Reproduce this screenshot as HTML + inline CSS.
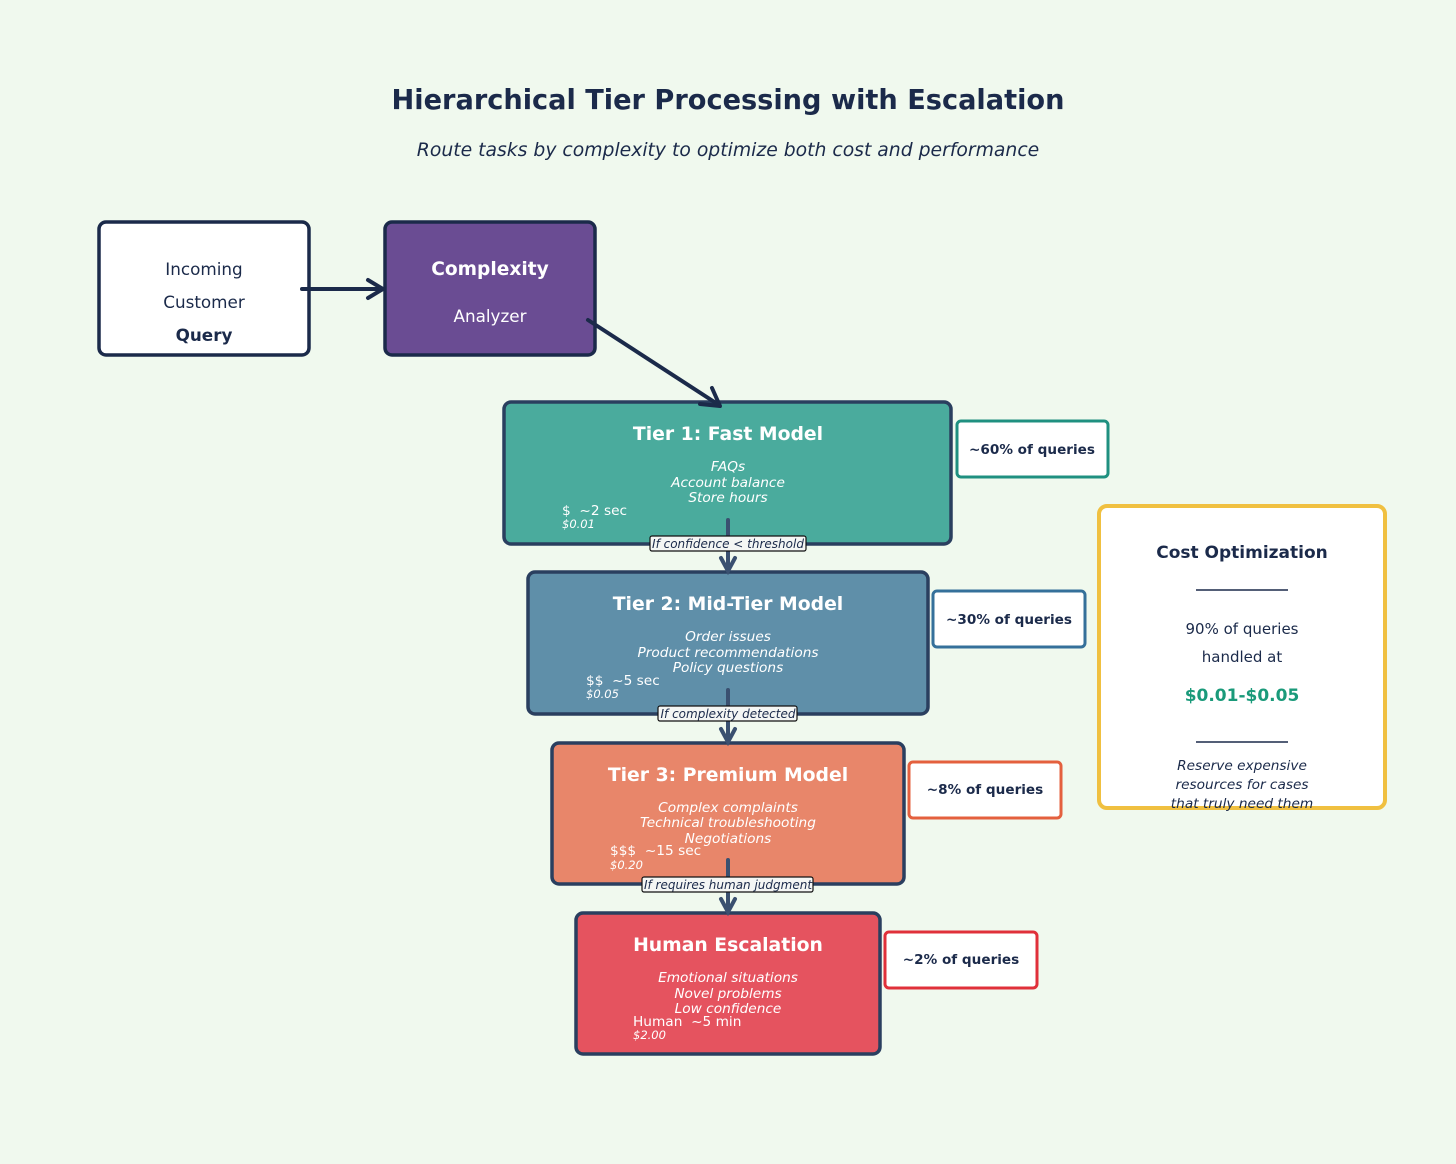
<!DOCTYPE html>
<html><head><meta charset="utf-8"><style>
html,body{margin:0;padding:0;background:#f0f9ee;}
svg{display:block;font-family:"DejaVu Sans","Liberation Sans",sans-serif;}
</style></head><body>
<svg width="1456" height="1164" viewBox="0 0 1456 1164" xmlns="http://www.w3.org/2000/svg">
<rect width="1456" height="1164" fill="#f0f9ee"/>
<text x="728" y="109" text-anchor="middle" font-size="27.2" font-weight="bold" fill="#1b2a4a">Hierarchical Tier Processing with Escalation</text>
<text x="728" y="156" text-anchor="middle" font-size="18.8" font-style="italic" fill="#1b2a4a">Route tasks by complexity to optimize both cost and performance</text>

<rect x="99" y="222" width="210" height="133" rx="7" fill="#fff" stroke="#1b2a4a" stroke-width="3.5"/>
<g font-size="16.8" fill="#1b2a4a" text-anchor="middle">
<text x="204" y="275">Incoming</text><text x="204" y="308">Customer</text><text x="204" y="341" font-weight="bold">Query</text></g>
<rect x="385" y="222" width="210" height="133" rx="7" fill="#6a4c93" stroke="#1b2a4a" stroke-width="3.5"/>
<text x="490" y="275" text-anchor="middle" font-size="18.6" font-weight="bold" fill="#fff">Complexity</text>
<text x="490" y="322" text-anchor="middle" font-size="16.8" fill="#fff">Analyzer</text>

<g stroke="#2a3f5f" stroke-width="3.5">
<rect x="504" y="402" width="447" height="142" rx="7" fill="#4aab9d"/>
<rect x="528" y="572" width="400" height="142" rx="7" fill="#5f8fa9"/>
<rect x="552" y="743" width="352" height="141" rx="7" fill="#e8866a"/>
<rect x="576" y="913" width="304" height="141" rx="7" fill="#e5535f"/>
</g>

<g stroke="#1b2a4a" stroke-width="4" fill="none" stroke-linecap="round" stroke-linejoin="round">
<line x1="302" y1="289" x2="382" y2="289"/><polyline points="368,280 383,289 368,298"/>
<line x1="588" y1="320" x2="719" y2="405"/><polyline points="700,404 720,406 712,388"/>
</g>

<g fill="#fff" text-anchor="middle">
<text x="728" y="440" font-size="18.8" font-weight="bold">Tier 1: Fast Model</text>
<g font-size="13.7" font-style="italic"><text x="728" y="471">FAQs</text><text x="728" y="487">Account balance</text><text x="728" y="502">Store hours</text></g>
<text x="728" y="610" font-size="18.8" font-weight="bold">Tier 2: Mid-Tier Model</text>
<g font-size="13.7" font-style="italic"><text x="728" y="641">Order issues</text><text x="728" y="657">Product recommendations</text><text x="728" y="672">Policy questions</text></g>
<text x="728" y="781" font-size="18.8" font-weight="bold">Tier 3: Premium Model</text>
<g font-size="13.7" font-style="italic"><text x="728" y="812">Complex complaints</text><text x="728" y="827">Technical troubleshooting</text><text x="728" y="843">Negotiations</text></g>
<text x="728" y="951" font-size="18.8" font-weight="bold">Human Escalation</text>
<g font-size="13.7" font-style="italic"><text x="728" y="982">Emotional situations</text><text x="728" y="998">Novel problems</text><text x="728" y="1013">Low confidence</text></g>
</g>
<g fill="#fff">
<text x="562" y="515" font-size="13.7">$&#160;&#160;~2 sec</text><text x="562" y="528" font-size="11.5" font-style="italic">$0.01</text>
<text x="586" y="685" font-size="13.7">$$&#160;&#160;~5 sec</text><text x="586" y="698" font-size="11.5" font-style="italic">$0.05</text>
<text x="610" y="855" font-size="13.7">$$$&#160;&#160;~15 sec</text><text x="610" y="869" font-size="11.5" font-style="italic">$0.20</text>
<text x="633" y="1026" font-size="13.7">Human&#160;&#160;~5 min</text><text x="633" y="1039" font-size="11.5" font-style="italic">$2.00</text>
</g>

<g stroke="#3a5070" stroke-width="4" fill="none" stroke-linecap="round">
<line x1="728" y1="520" x2="728" y2="570"/><polyline points="721,558 728,571 735,558"/>
<line x1="728" y1="690" x2="728" y2="741"/><polyline points="721,729 728,742 735,729"/>
<line x1="728" y1="860" x2="728" y2="911"/><polyline points="721,899 728,912 735,899"/>
</g>
<g font-size="12" font-style="italic" fill="#1b2a4a" text-anchor="middle">
<rect x="650" y="536" width="156" height="15" rx="2" fill="#f4f6f4" stroke="#111" stroke-width="1.2"/>
<text x="728" y="548">If confidence &lt; threshold</text>
<rect x="658" y="706" width="139" height="15" rx="2" fill="#f4f6f4" stroke="#111" stroke-width="1.2"/>
<text x="728" y="718">If complexity detected</text>
<rect x="642" y="877" width="171" height="15" rx="2" fill="#f4f6f4" stroke="#111" stroke-width="1.2"/>
<text x="728" y="889">If requires human judgment</text>
</g>

<g fill="#fff" stroke-width="3">
<rect x="957" y="421" width="151" height="56" rx="4" stroke="#1f9080"/>
<rect x="933" y="591" width="152" height="56" rx="4" stroke="#35709a"/>
<rect x="909" y="762" width="152" height="56" rx="4" stroke="#e4603e"/>
<rect x="885" y="932" width="152" height="56" rx="4" stroke="#e0303a"/>
</g>
<g font-size="13.6" font-weight="bold" fill="#1b2a4a" text-anchor="middle">
<text x="1032" y="454">~60% of queries</text>
<text x="1009" y="624">~30% of queries</text>
<text x="985" y="794">~8% of queries</text>
<text x="961" y="964">~2% of queries</text>
</g>

<rect x="1099" y="506" width="286" height="302" rx="8" fill="#fff" stroke="#f0c040" stroke-width="4"/>
<g text-anchor="middle" fill="#1b2a4a">
<text x="1242" y="558" font-size="17" font-weight="bold">Cost Optimization</text>
<line x1="1196" y1="590" x2="1288" y2="590" stroke="#1b2a4a" stroke-width="1.5"/>
<text x="1242" y="634" font-size="15">90% of queries</text>
<text x="1242" y="662" font-size="15">handled at</text>
<text x="1242" y="701" font-size="17" font-weight="bold" fill="#1a9a7a">$0.01-$0.05</text>
<line x1="1196" y1="742" x2="1288" y2="742" stroke="#1b2a4a" stroke-width="1.5"/>
<g font-size="13.7" font-style="italic"><text x="1242" y="770">Reserve expensive</text><text x="1242" y="789">resources for cases</text><text x="1242" y="808">that truly need them</text></g>
</g>
</svg>
</body></html>
